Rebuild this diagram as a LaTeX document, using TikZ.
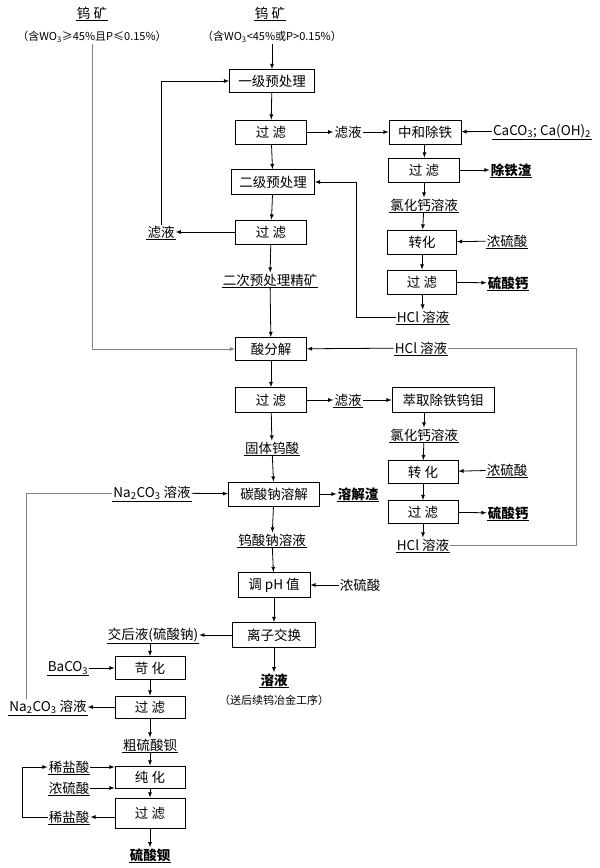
\documentclass[tikz,border=0pt]{standalone}
\usepackage{fontspec}
\setmainfont{Noto Sans CJK SC}
\usetikzlibrary{arrows,positioning,calc}

\tikzset{
  box/.style={draw, thick, minimum width=71pt, minimum height=24pt, inner sep=1pt},
  lab/.style={inner sep=1pt},
  ul/.style={lab, append after command={(\tikzlastnode.south west) edge[thick, -] (\tikzlastnode.south east)}},
  bold/.style={font=\fontsize{13.5}{15}\selectfont\bfseries},
  small/.style={font=\fontsize{11}{12}\selectfont},
  flow/.style={-latex, thick},
  back/.style={gray, thick}
}

\begin{document}
\begin{tikzpicture}[x=1pt, y=-1pt, font=\fontsize{13.5}{15}\selectfont]
\useasboundingbox (0,0) rectangle (600,868);

% Raw ores
\node[ul] (ore1) at (92,13) {钨 矿};
\node[lab, small] (ore1s) at (92,37) {（含WO\textsubscript{3}≥45\%且P≤0.15\%）};
\node[ul] (ore2) at (270,13) {钨 矿};
\node[lab, small] (ore2s) at (272,37) {（含WO\textsubscript{3}<45\%或P>0.15\%）};

% Pretreatment
\node[box, minimum width=85pt, minimum height=23pt] (p1) at (272,81) {一级预处理};
\node[box] (f1) at (271,132) {过\ 滤};
\node[lab] (l1) at (348,132) {滤液};
\node[box, minimum width=72pt] (n1) at (425,132) {中和除铁};
\node[ul] (ca) at (542,131) {CaCO\textsubscript{3}; Ca(OH)\textsubscript{2}};
\node[box] (f4) at (424,170) {过\ 滤};
\node[ul, bold] (fe) at (511,170) {除铁渣};
\node[ul] (cl1) at (424,205) {氯化钙溶液};
\node[box, minimum width=69pt] (t1) at (422,242) {转化};
\node[ul] (acid1) at (507,241) {浓硫酸};
\node[box, minimum width=69pt] (f5) at (422,282) {过\ 滤};
\node[ul, bold] (cs1) at (508,283) {硫酸钙};
\node[ul] (hcl1) at (423,317) {HCl 溶液};
\node[box, minimum width=83pt, minimum height=25pt] (p2) at (273,182) {二级预处理};
\node[box] (f2) at (271,232) {过\ 滤};
\node[ul] (l2) at (161,232) {滤液};
\node[ul] (jk) at (270,280) {二次预处理精矿};

% Acid decomposition
\node[box, minimum height=23pt] (dec) at (271,349) {酸分解};
\node[ul] (hcl2) at (421,348) {HCl 溶液};
\node[box, minimum height=25pt] (f3) at (271,400) {过\ 滤};
\node[ul] (l3) at (348,400) {滤液};
\node[box, minimum width=102pt, minimum height=25pt] (ex) at (443,400) {萃取除铁钨钼};
\node[ul] (cl2) at (424,435) {氯化钙溶液};
\node[box, minimum width=70pt, minimum height=23pt] (t2) at (423,472) {转\ 化};
\node[ul] (acid2) at (507,470) {浓硫酸};
\node[box, minimum width=70pt, minimum height=23pt] (f6) at (423,512) {过\ 滤};
\node[ul, bold] (cs2) at (508,513) {硫酸钙};
\node[ul] (hcl3) at (423,545) {HCl 溶液};
\node[ul] (gt) at (272,448) {固体钨酸};

% Sodium tungstate
\node[box, minimum width=91pt] (sd) at (274,494) {碳酸钠溶解};
\node[ul] (na1) at (152,493) {Na\textsubscript{2}CO\textsubscript{3} 溶液};
\node[ul, bold] (slag) at (358,494) {溶解渣};
\node[ul] (nw) at (272,540) {钨酸钠溶液};
\node[box, minimum width=72pt, minimum height=25pt] (ph) at (274,585) {调 pH 值};
\node[lab] (acid3) at (360,585) {浓硫酸};
\node[box, minimum width=83pt, minimum height=25pt] (ix) at (274,635) {离子交换};
\node[ul, bold] (sol) at (274,680) {溶液};
\node[lab, small] (sols) at (274,700) {（送后续钨冶金工序）};

% Barium sulfate
\node[ul] (jh) at (153,635) {交后液(硫酸钠)};
\node[box, minimum width=70pt, minimum height=23pt] (kh) at (150,668) {苛\ 化};
\node[ul] (ba) at (68,668) {BaCO\textsubscript{3}};
\node[box, minimum width=70pt, minimum height=22pt] (f7) at (150,707) {过\ 滤};
\node[ul] (na2) at (48,707) {Na\textsubscript{2}CO\textsubscript{3} 溶液};
\node[ul] (cb) at (150,745) {粗硫酸钡};
\node[box, minimum width=70pt, minimum height=22pt] (pu) at (150,777) {纯\ 化};
\node[ul] (hcl4) at (69,767) {稀盐酸};
\node[ul] (acid4) at (69,788) {浓硫酸};
\node[box, minimum width=70pt, minimum height=30pt] (f8) at (150,813) {过\ 滤};
\node[ul] (hcl5) at (69,817) {稀盐酸};
\node[ul, bold] (bs) at (150,855) {硫酸钡};

% Connectors
\draw[flow] (ore2s.south -| p1.north) -- (p1);
\draw[flow] (p1) -- (f1);
\draw[flow] (f1) -- (l1);
\draw[flow] (l1) -- (n1);
\draw[flow] (ca) -- (n1);
\draw[flow] (n1) -- (f4);
\draw[flow] (f4) -- (fe);
\draw[flow] (f4) -- (cl1);
\draw[flow] (cl1) -- (t1);
\draw[flow] (acid1) -- (t1);
\draw[flow] (t1) -- (f5);
\draw[flow] (f5) -- (cs1);
\draw[flow] (f5) -- (hcl1);
\draw[flow] (hcl1.west) -- ++(-39,0) |- (p2.east);
\draw[flow] (f1) -- (p2);
\draw[flow] (p2) -- (f2);
\draw[flow] (f2) -- (l2);
\draw[flow] (l2.north) |- (p1.west);
\draw[flow] (f2) -- (jk);
\draw[flow] (jk) -- (dec);
\draw[back, -latex] (ore1s.south) |- (dec.west);
\draw[flow] (hcl2) -- (dec);
\draw[back] (hcl3.east) -| (576,348) -- (hcl2.east);
\draw[flow] (dec) -- (f3);
\draw[flow] (f3) -- (l3);
\draw[flow] (l3) -- (ex);
\draw[flow] (ex.south -| cl2.north) -- (cl2);
\draw[flow] (cl2) -- (t2);
\draw[flow] (acid2) -- (t2);
\draw[flow] (t2) -- (f6);
\draw[flow] (f6) -- (cs2);
\draw[flow] (f6) -- (hcl3);
\draw[flow] (f3) -- (gt);
\draw[flow] (gt) -- (sd);
\draw[flow] (na1) -- (sd);
\draw[flow] (sd) -- (slag);
\draw[flow] (sd) -- (nw);
\draw[flow] (nw) -- (ph);
\draw[flow] (acid3) -- (ph);
\draw[flow] (ph) -- (ix);
\draw[flow] (ix) -- (jh);
\draw[flow] (ix) -- (sol);
\draw[flow] (jh.south -| kh.north) -- (kh);
\draw[flow] (ba) -- (kh);
\draw[flow] (kh) -- (f7);
\draw[flow] (f7) -- (na2);
\draw[back] ([xshift=18pt]na2.north west) |- (na1.west);
\draw[flow] (f7) -- (cb);
\draw[flow] (cb) -- (pu);
\draw[flow] (hcl4.east) -- (hcl4.east -| pu.west);
\draw[flow] (acid4.east) -- (acid4.east -| pu.west);
\draw[flow] (pu) -- (f8);
\draw[flow] (f8.west |- hcl5.east) -- (hcl5.east);
\draw[flow] (hcl5.west) -- ++(-25,0) |- (hcl4.west);
\draw[flow] (f8) -- (bs);

\end{tikzpicture}
\end{document}
